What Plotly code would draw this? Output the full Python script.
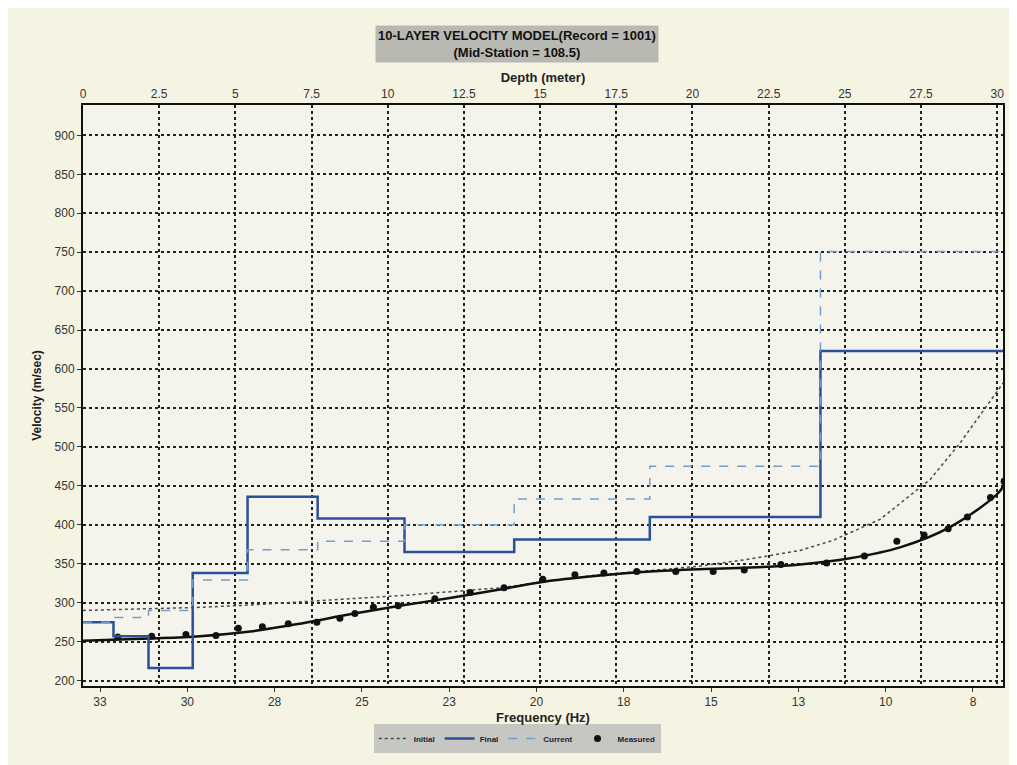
import plotly.graph_objects as go

# ---------------- data ----------------
# layered velocity model (depth of layer tops, m) and velocities (m/sec)
layer_top_depth = [0, 1.0, 2.15, 3.6, 5.4, 7.7, 10.55, 14.15, 18.6, 24.2]
model_end_depth = 30.2
final_vs = [275, 257, 216, 338, 436, 408, 365, 381, 410, 623]
current_vs = [275, 281, 290, 329, 368, 379, 400, 433, 475, 751]

# measured dispersion curve
measured_freq = [32.49, 31.52, 30.54, 29.68, 29.04, 28.35, 27.61, 26.79, 26.13, 25.70,
                 25.17, 24.46, 23.41, 22.40, 21.43, 20.32, 19.40, 18.57, 17.63, 16.51,
                 15.44, 14.55, 13.50, 12.19, 11.11, 10.18, 9.40, 8.71, 8.16, 7.50, 7.11]
measured_vel = [256, 257, 259, 258, 267, 269, 273, 275, 280, 286,
                294, 296, 305, 313, 319, 330, 336, 338, 340, 340,
                340, 342, 349, 351, 360, 379, 387, 395, 410, 435, 456]

# dispersion curve of the final model (solid)
final_curve_freq = [33.49, 31.57, 30.14, 28.70, 27.27, 25.84, 24.41, 22.98, 21.55, 20.11,
                    18.68, 17.25, 15.82, 14.39, 12.95, 11.52, 10.09, 8.66, 7.23, 7.10]
final_curve_vel = [251, 254, 257, 263, 273, 285, 296, 306, 317, 328,
                   335, 340, 343, 345, 349, 357, 371, 397, 443, 455]

# dispersion curve of the initial model (dotted)
initial_curve_freq = [33.49, 31.57, 30.14, 28.70, 27.27, 25.84, 24.41, 22.98, 21.55, 20.11,
                      18.68, 17.25, 15.82, 14.39, 12.95, 12.01, 10.66, 9.23, 8.37, 7.28, 7.14]
initial_curve_vel = [290, 292, 294, 297, 301, 305, 309, 314, 319, 328,
                     336, 341, 347, 356, 367, 380, 407, 458, 505, 573, 582]

freq_tickvals = [33, 30.5, 28, 25.5, 23, 20.5, 18, 15.5, 13, 10.5, 8]
freq_ticktext = ["33", "30", "28", "25", "23", "20", "18", "15", "13", "10", "8"]

# ---------------- figure ----------------
FONT = "Liberation Sans, Arial, sans-serif"
fig = go.Figure()

step_x = layer_top_depth + [model_end_depth]

fig.add_trace(go.Scatter(
    x=initial_curve_freq, y=initial_curve_vel, mode="lines", name="Initial",
    line=dict(color="#4a4a4a", width=1.5, dash="dot"), xaxis="x", yaxis="y"))

fig.add_trace(go.Scatter(
    x=step_x, y=final_vs + [final_vs[-1]], mode="lines", name="Final",
    line=dict(color="#2b4f98", width=2.5, shape="hv"), xaxis="x2", yaxis="y"))

fig.add_trace(go.Scatter(
    x=step_x, y=current_vs + [current_vs[-1]], mode="lines", name="Current",
    line=dict(color="#6f9fcc", width=1.5, dash="dash", shape="hv"), xaxis="x2", yaxis="y"))

fig.add_trace(go.Scatter(
    x=final_curve_freq, y=final_curve_vel, mode="lines", showlegend=False,
    line=dict(color="#111111", width=2.5, shape="spline"), xaxis="x", yaxis="y"))

fig.add_trace(go.Scatter(
    x=measured_freq, y=measured_vel, mode="markers", name="Measured",
    marker=dict(color="#111111", size=7), xaxis="x", yaxis="y"))

# page body has an 8px margin: compensate so the plot area lands at x 83-1003, y 105-692
PLOT_H = 587.0
fig.update_layout(
    width=1009, height=757,
    margin=dict(l=75, r=14, t=97, b=73),
    paper_bgcolor="#f5f3e2",
    plot_bgcolor="#f4f4ec",
    font=dict(family=FONT, size=12, color="#222222"),
    xaxis=dict(
        range=[33.487, 7.14], tickvals=freq_tickvals, ticktext=freq_ticktext,
        showgrid=False, zeroline=False, showline=True, linecolor="#111111", linewidth=2,
        ticks="outside", ticklen=4, tickcolor="#333333",
        tickfont=dict(size=12, color="#333333"),
        title=dict(text="<b>Frequency (Hz)</b>", font=dict(size=13, color="#222222"), standoff=4),
    ),
    xaxis2=dict(
        range=[0, 30.19], overlaying="x", side="top", tick0=0, dtick=2.5,
        showgrid=True, gridcolor="#222222", griddash="dot", gridwidth=1.5,
        zeroline=False, showline=True, linecolor="#111111", linewidth=2, ticks="",
        tickfont=dict(size=12, color="#333333"),
        title=dict(text="<b>Depth (meter)</b>", font=dict(size=13, color="#222222"), standoff=2),
    ),
    yaxis=dict(
        range=[193, 939], tick0=200, dtick=50,
        showgrid=True, gridcolor="#222222", griddash="dot", gridwidth=1.5,
        zeroline=False, showline=True, mirror=True, linecolor="#111111", linewidth=2,
        ticks="outside", ticklen=4, tickcolor="#333333",
        tickfont=dict(size=12, color="#333333"),
        title=dict(text="<b>Velocity (m/sec)</b>", font=dict(size=12, color="#222222"), standoff=10),
    ),
    legend=dict(
        orientation="h", x=0.472, xanchor="center", y=-(745 - 692) / PLOT_H, yanchor="middle",
        bgcolor="#c6c6c2", font=dict(size=8, color="#222222", weight="bold"),
        itemwidth=30, tracegroupgap=0,
    ),
    annotations=[dict(
        text="<b>10-LAYER VELOCITY MODEL(Record = 1001)<br>(Mid-Station = 108.5)</b>",
        xref="paper", yref="paper", x=(517 - 83) / 920.0, y=1.0 + (105 - 43) / PLOT_H,
        xanchor="center", yanchor="middle", showarrow=False,
        font=dict(size=13, color="#111111", family=FONT),
        bgcolor="#b9b9b3", borderpad=2,
    )],
)

fig.write_html("out.html")
